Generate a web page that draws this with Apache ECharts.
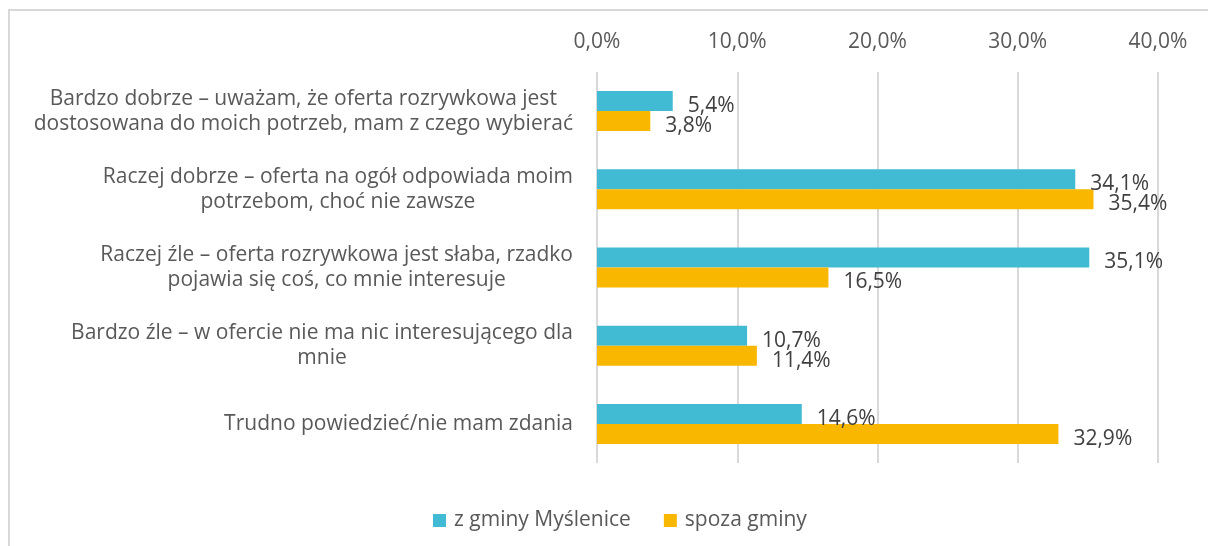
<!DOCTYPE html>
<html>
<head>
<meta charset="utf-8">
<script src="https://cdn.jsdelivr.net/npm/echarts@6/dist/echarts.min.js"></script>
<style>
  html, body { margin: 0; padding: 0; background: #fff; }
  #wrap { position: relative; width: 1208px; height: 546px; }
  #chart { position: absolute; left: 0; top: 0; width: 1208px; height: 546px; }
  #frame { position: absolute; left: 8px; top: 9px; width: 1200px; height: 537px;
           border-top: 2px solid #d9d9d9; border-left: 2px solid #d9d9d9; box-sizing: border-box; pointer-events: none; }
</style>
</head>
<body>
<div id="wrap">
  <div id="chart"></div>
  <div id="frame"></div>
</div>
<script>
// Answer categories (top to bottom)
const categories = [
  'Bardzo dobrze – uważam, że oferta rozrywkowa jest\ndostosowana do moich potrzeb, mam z czego wybierać',
  'Raczej dobrze – oferta na ogół odpowiada moim\npotrzebom, choć nie zawsze',
  'Raczej źle – oferta rozrywkowa jest słaba, rzadko\npojawia się coś, co mnie interesuje',
  'Bardzo źle – w ofercie nie ma nic interesującego dla\nmnie',
  'Trudno powiedzieć/nie mam zdania'
];

const seriesNames = ['z gminy Myślenice', 'spoza gminy'];

// Percent of respondents
const residents = [5.4, 34.1, 35.1, 10.7, 14.6];
const nonResidents = [3.8, 35.4, 16.5, 11.4, 32.9];

const axisTicks = [0, 10, 20, 30, 40];

const colors = ['#41BBD3', '#F9B700'];
const fontFamily = '"Open Sans", "Noto Sans", sans-serif';

const pct = v => v.toFixed(1).replace('.', ',') + '%';

const chart = echarts.init(document.getElementById('chart'), null, { renderer: 'canvas' });

const barLabel = {
  show: true,
  position: 'right',
  distance: 15,
  offset: [0, 5],
  fontFamily,
  fontSize: 21,
  color: '#404040',
  formatter: p => pct(p.value)
};

chart.setOption({
  animation: false,
  color: colors,
  textStyle: { fontFamily },
  grid: { left: 597, right: 50, top: 72, bottom: 83, containLabel: false },
  legend: {
    data: seriesNames,
    bottom: 10,
    left: 428,
    icon: 'rect',
    itemWidth: 13,
    itemHeight: 13,
    itemGap: 33,
    textStyle: { fontFamily, fontSize: 21, color: '#595959', padding: [0, 0, 0, 3] }
  },
  xAxis: {
    type: 'value',
    position: 'top',
    min: axisTicks[0],
    max: axisTicks[axisTicks.length - 1],
    interval: axisTicks[1] - axisTicks[0],
    axisLine: { show: false },
    axisTick: { show: false },
    splitLine: { show: true, lineStyle: { color: '#d9d9d9', width: 2 } },
    axisLabel: {
      margin: 19,
      fontFamily,
      fontSize: 21,
      color: '#595959',
      formatter: v => pct(v)
    }
  },
  yAxis: {
    type: 'category',
    data: categories,
    inverse: true,
    axisLine: { show: false },
    axisTick: { show: false },
    splitLine: { show: false },
    axisLabel: {
      margin: 24,
      align: 'right',
      formatter: v => v.split('\n').map(l => '{c|' + l + '}').join('\n'),
      rich: {
        c: { align: 'center', fontFamily, fontSize: 21, lineHeight: 25, color: '#595959' }
      }
    }
  },
  series: [
    {
      name: seriesNames[0],
      type: 'bar',
      data: residents,
      barWidth: 20,
      barGap: '0%',
      label: barLabel
    },
    {
      name: seriesNames[1],
      type: 'bar',
      data: nonResidents,
      barWidth: 20,
      barGap: '0%',
      label: barLabel
    }
  ]
});
</script>
</body>
</html>
